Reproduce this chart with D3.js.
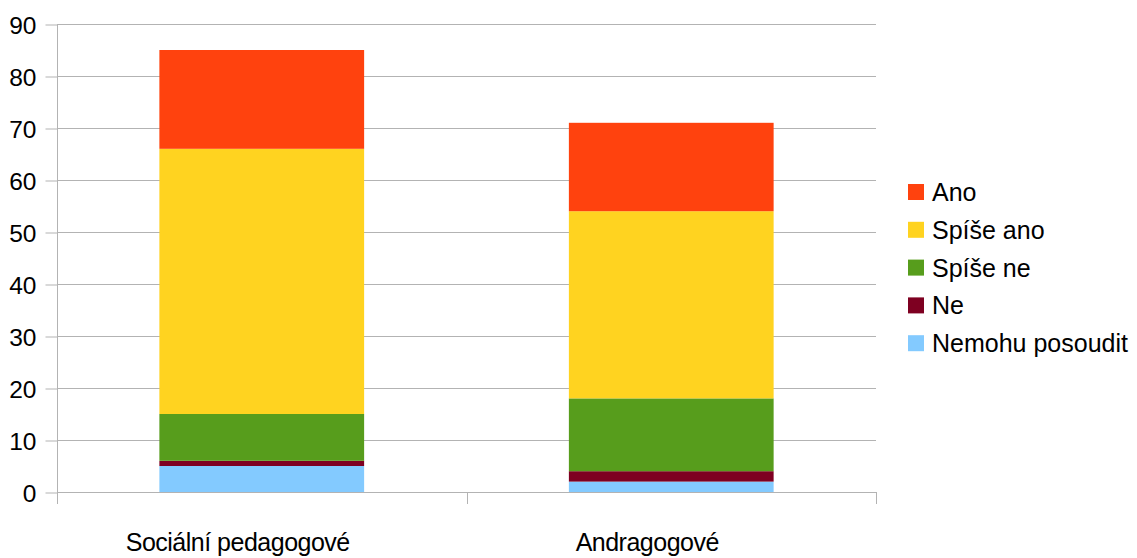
<!DOCTYPE html>
<html>
<head>
<meta charset="utf-8">
<script src="https://cdn.jsdelivr.net/npm/d3@7"></script>
<style>
  html, body { margin: 0; padding: 0; background: #fff; }
  svg { display: block; }
</style>
</head>
<body>
<svg id="chart" width="1137" height="558"></svg>
<script>
// Categories along the x axis
const categories = ["Sociální pedagogové", "Andragogové"];
// Series, stacked from bottom to top
const seriesNames = ["Nemohu posoudit", "Ne", "Spíše ne", "Spíše ano", "Ano"];
const seriesColors = ["#83caff", "#7e0021", "#579d1c", "#ffd320", "#ff420e"];
const nemohuPosoudit = [5, 2];
const ne = [1, 2];
const spiseNe = [9, 14];
const spiseAno = [51, 36];
const ano = [19, 17];
const yTicks = [0, 10, 20, 30, 40, 50, 60, 70, 80, 90];

const seriesValues = [nemohuPosoudit, ne, spiseNe, spiseAno, ano];
const rows = categories.map((c, i) => {
  const r = { category: c };
  seriesNames.forEach((s, k) => { r[s] = seriesValues[k][i]; });
  return r;
});

const svg = d3.select("#chart");
const plotLeft = 57, plotRight = 876, plotTop = 24, plotBottom = 492;
const font = "'Liberation Sans', Arial, sans-serif";

const x = d3.scaleBand().domain(categories).range([plotLeft, plotRight]).paddingInner(0.5).paddingOuter(0.25);
const y = d3.scaleLinear().domain([0, 90]).range([plotBottom, plotTop]);

// Horizontal gridlines
svg.append("g")
  .selectAll("line")
  .data(yTicks)
  .join("line")
  .attr("x1", plotLeft).attr("x2", plotRight)
  .attr("y1", d => y(d) + 0.5).attr("y2", d => y(d) + 0.5)
  .attr("stroke", "#b3b3b3").attr("stroke-width", 1);

// Stacked bars
const stack = d3.stack().keys(seriesNames)(rows);
svg.append("g")
  .selectAll("g")
  .data(stack)
  .join("g")
  .attr("fill", (d, i) => seriesColors[i])
  .selectAll("rect")
  .data(d => d)
  .join("rect")
  .attr("x", d => x(d.data.category))
  .attr("width", x.bandwidth())
  .attr("y", d => y(d[1]))
  .attr("height", d => y(d[0]) - y(d[1]));

// Y axis
const yAxis = d3.axisLeft(y).tickValues(yTicks).tickSize(12).tickPadding(9);
const gy = svg.append("g").attr("transform", `translate(${plotLeft + 0.5},0.5)`).call(yAxis);
gy.select(".domain").remove();
gy.selectAll(".tick line").attr("stroke", "#b3b3b3");
gy.selectAll(".tick text")
  .attr("fill", "#000")
  .attr("dy", "0.36em")
  .style("font-family", font)
  .style("font-size", "24.5px");
svg.append("line")
  .attr("x1", plotLeft + 0.5).attr("x2", plotLeft + 0.5)
  .attr("y1", plotTop).attr("y2", plotBottom + 12)
  .attr("stroke", "#b3b3b3");

// X axis baseline with category separators
svg.append("line")
  .attr("x1", plotLeft).attr("x2", plotRight + 1)
  .attr("y1", plotBottom + 0.5).attr("y2", plotBottom + 0.5)
  .attr("stroke", "#b3b3b3");
const sepX = [(x(categories[0]) + x.bandwidth() + x(categories[1])) / 2, plotRight];
svg.append("g")
  .selectAll("line")
  .data(sepX)
  .join("line")
  .attr("x1", d => Math.round(d) + 0.5).attr("x2", d => Math.round(d) + 0.5)
  .attr("y1", plotBottom).attr("y2", plotBottom + 12)
  .attr("stroke", "#b3b3b3");

// Category labels
svg.append("g")
  .selectAll("text")
  .data(categories)
  .join("text")
  .attr("x", d => x(d) + x.bandwidth() / 2 - 24)
  .attr("y", 551)
  .attr("text-anchor", "middle")
  .attr("fill", "#000")
  .style("font-family", font)
  .style("font-size", "25px")
  .style("letter-spacing", "-0.5px")
  .text(d => d);

// Legend (top series first)
const legendItems = seriesNames.map((s, i) => ({ name: s, color: seriesColors[i] })).reverse();
const lg = svg.append("g")
  .selectAll("g")
  .data(legendItems)
  .join("g")
  .attr("transform", (d, i) => `translate(908,${192 + i * 37.8})`);
lg.append("rect")
  .attr("x", 0).attr("y", -8).attr("width", 16).attr("height", 16)
  .attr("fill", d => d.color);
lg.append("text")
  .attr("x", 24).attr("y", 9)
  .attr("fill", "#000")
  .style("font-family", font)
  .style("font-size", "25px")
  .text(d => d.name);
</script>
</body>
</html>
